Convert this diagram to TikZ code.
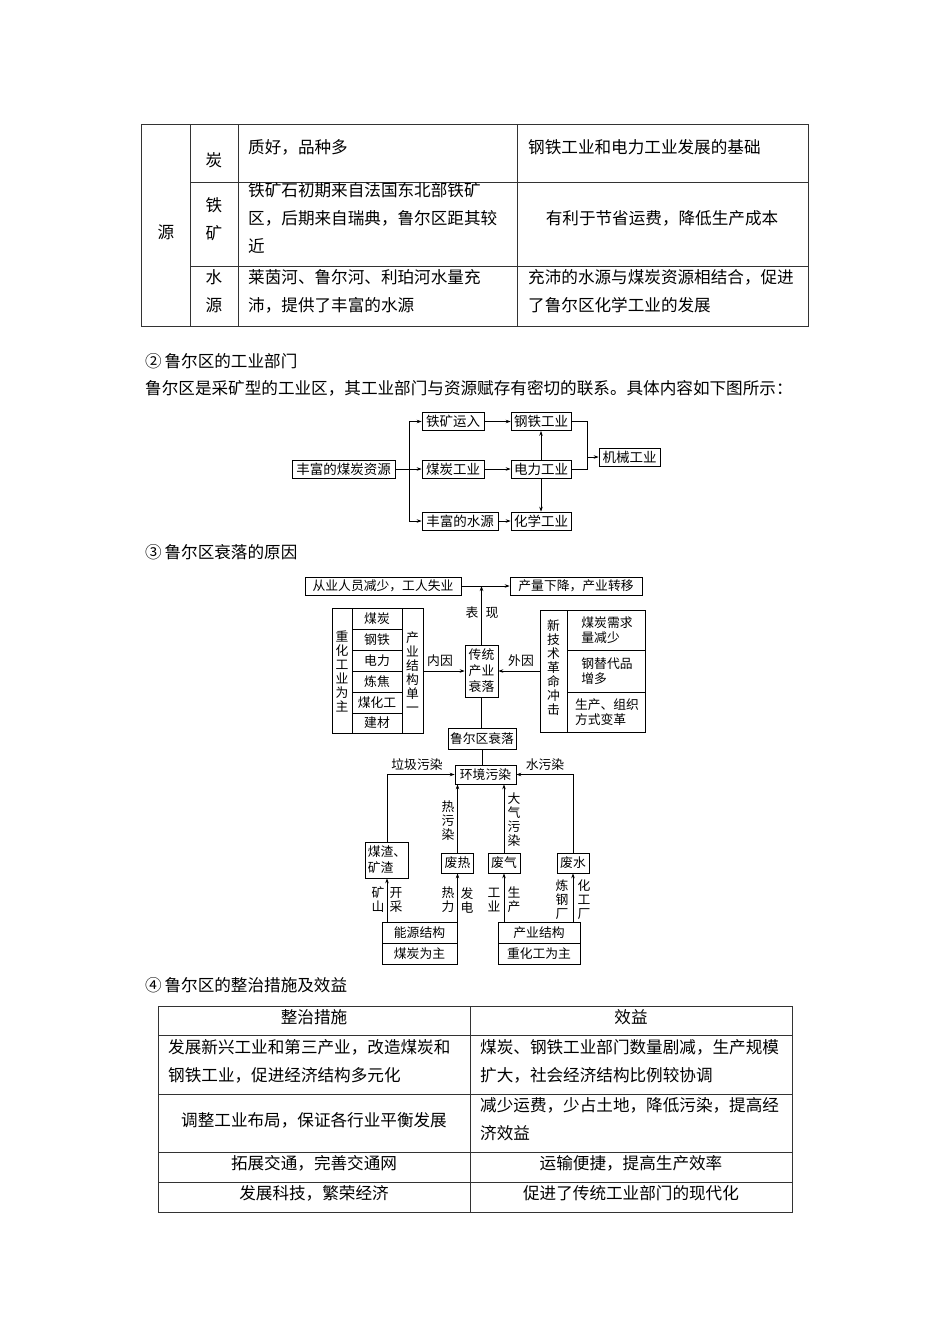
\documentclass[tikz,border=0pt]{standalone}
\usepackage{fontspec}
\setmainfont{Noto Sans CJK SC}
\usetikzlibrary{arrows.meta}
\newcommand{\tfont}{\fontsize{16.6}{28}\selectfont}
\newcommand{\dfontb}{\fontsize{13.5}{16}\selectfont}
\newcommand{\dfontc}{\fontsize{12.8}{14}\selectfont}
\begin{document}
\begin{tikzpicture}[x=1pt,y=-1pt,
  tbl/.style={draw=black!80, line width=0.9pt},
  ttext/.style={font=\tfont, inner sep=0pt, anchor=west, align=left},
  tctr/.style={font=\tfont, inner sep=0pt, align=center},
  boxb/.style={draw, line width=0.7pt, inner xsep=3pt, inner ysep=1.5pt, minimum height=18pt, font=\dfontb},
  boxc/.style={draw, line width=0.7pt, inner xsep=2pt, inner ysep=1.5pt, font=\dfontc, align=center},
  ln/.style={line width=0.7pt},
  arr/.style={line width=0.7pt, -{Stealth[length=5pt,width=3.5pt]}},
  lbl/.style={font=\dfontc, inner sep=0pt, align=center},
  vlbl/.style={font=\fontsize{12.8}{14}\selectfont, inner sep=0pt, align=center}
]
\useasboundingbox[fill=white] (0,0) rectangle (950,1344);

% ---------- top table ----------
\draw[tbl] (141,124) rectangle (808,326);
\draw[tbl] (190,124) -- (190,326);
\draw[tbl] (238,124) -- (238,326);
\draw[tbl] (517,124) -- (517,326);
\draw[tbl] (190,182) -- (808,182);
\draw[tbl] (190,266) -- (808,266);
\node[tctr] (ta) at (166,232) {源};
\node[tctr] (tb) at (214,160) {炭};
\node[tctr] (tc) at (214,219) {铁\\矿};
\node[tctr] (td) at (214,291) {水\\源};
\node[ttext] (te) at (248,147) {质好，品种多};
\node[ttext] (tf) at (248,218) {铁矿石初期来自法国东北部铁矿\\区，后期来自瑞典，鲁尔区距其较\\近};
\node[ttext] (tg) at (248,291) {莱茵河、鲁尔河、利珀河水量充\\沛，提供了丰富的水源};
\node[ttext] (th) at (528,147) {钢铁工业和电力工业发展的基础};
\node[tctr] (ti) at (662,218) {有利于节省运费，降低生产成本};
\node[ttext] (tj) at (528,291) {充沛的水源与煤炭资源相结合，促进\\了鲁尔区化学工业的发展};

% ---------- section 2 ----------
\node[ttext] (s2) at (145,361) {②\,鲁尔区的工业部门};
\node[ttext] (p2) at (145,388) {鲁尔区是采矿型的工业区，其工业部门与资源赋存有密切的联系。具体内容如下图所示：};

\node[boxb, minimum width=103pt] (src) at (343.5,469) {丰富的煤炭资源};
\node[boxb, minimum width=62pt] (tk) at (453,421.5) {铁矿运入};
\node[boxb, minimum width=62pt] (mt) at (453,469) {煤炭工业};
\node[boxb, minimum width=76pt] (sy) at (460,521) {丰富的水源};
\node[boxb, minimum width=60pt] (gt) at (541,421.5) {钢铁工业};
\node[boxb, minimum width=60pt] (dl) at (541,469) {电力工业};
\node[boxb, minimum width=60pt] (hx) at (541,521) {化学工业};
\node[boxb, minimum width=61pt] (jx) at (629.5,457) {机械工业};
\coordinate (br) at (409,469);
\coordinate (mj) at (587,457);
\draw[ln] (src.east) -- (br);
\draw[ln] (br |- tk.west) -- (br |- sy.west);
\draw[arr] (br |- tk.west) -- (tk.west);
\draw[arr] (br) -- (mt.west);
\draw[arr] (br |- sy.west) -- (sy.west);
\draw[arr] (tk.east) -- (gt.west);
\draw[arr] (mt.east) -- (dl.west);
\draw[arr] (sy.east) -- (hx.west);
\draw[arr] (dl.north) -- (gt.south);
\draw[arr] (dl.south) -- (hx.north);
\draw[ln] (gt.east) -- (gt.east -| mj) -- (dl.east -| mj) -- (dl.east);
\draw[arr] (mj) -- (jx.west);

% ---------- section 3 ----------
\node[ttext] (s3) at (145,552) {③\,鲁尔区衰落的原因};

\node[boxc, minimum width=156pt, minimum height=18pt] (cy) at (383,586) {从业人员减少，工人失业};
\node[boxc, minimum width=132pt, minimum height=18pt] (cl) at (576,586) {产量下降，产业转移};
\node[boxc, minimum width=33pt, minimum height=52pt, font=\fontsize{12.8}{16}\selectfont] (ct) at (481.5,671) {传统\\产业\\衰落};
\coordinate (bx) at (481.5,586);
\draw[arr] (cy.east) -- (cl.west);
\draw[arr] (ct.north) -- (bx);
\node[lbl] (bx1) at (472,613) {表};
\node[lbl] (bx2) at (492,613) {现};

% left group
\node[draw, line width=0.7pt, minimum width=91pt, minimum height=125pt, inner sep=0pt] (lg) at (377.5,670.5) {};
\draw[ln] (352,608) -- (352,733);
\draw[ln] (402,608) -- (402,733);
\foreach \yy in {629,650,671,692,713} { \draw[ln] (352,\yy) -- (402,\yy); }
\node[lbl] (l1) at (377,618.5) {煤炭};
\node[lbl] (l2) at (377,639.5) {钢铁};
\node[lbl] (l3) at (377,660.5) {电力};
\node[lbl] (l4) at (377,681.5) {炼焦};
\node[lbl] (l5) at (377,702.5) {煤化工};
\node[lbl] (l6) at (377,723) {建材};
\node[vlbl] (lz) at (342,671) {重\\化\\工\\业\\为\\主};
\node[vlbl] (lc) at (412.5,672) {产\\业\\结\\构\\单\\一};
\draw[arr] (lg.east |- ct.west) -- (ct.west);
\node[lbl] (ny0) at (440,661) {内因};

% right group
\node[draw, line width=0.7pt, minimum width=105pt, minimum height=122pt, inner sep=0pt] (rg) at (592.5,671) {};
\draw[ln] (567,610) -- (567,732);
\draw[ln] (567,650) -- (645,650);
\draw[ln] (567,692) -- (645,692);
\node[vlbl] (rz) at (553.5,668) {新\\技\\术\\革\\命\\冲\\击};
\node[lbl, align=left, font=\fontsize{12.8}{15.5}\selectfont] (r1) at (607,630) {煤炭需求\\量减少};
\node[lbl, align=left, font=\fontsize{12.8}{15.5}\selectfont] (r2) at (607,671) {钢替代品\\增多};
\node[lbl, align=left, font=\fontsize{12.8}{15.5}\selectfont] (r3) at (607,712) {生产、组织\\方式变革};
\draw[arr] (rg.west |- ct.east) -- (ct.east);
\node[lbl] (wy0) at (521,661) {外因};

% decline and pollution
\node[boxc, minimum width=68pt, minimum height=21pt] (ls) at (482,738.5) {鲁尔区衰落};
\node[boxc, minimum width=61pt, minimum height=19pt] (hj) at (485.5,774.5) {环境污染};
\draw[ln] (ct.south) -- (ct.south |- ls.north);
\draw[ln] (ls.south) -- (ls.south |- hj.north);

\node[boxc, minimum width=38pt, minimum height=36pt, align=left, font=\fontsize{12.8}{16}\selectfont] (mz) at (387,860) {煤渣、\\矿渣};
\node[boxc, minimum width=32pt, minimum height=20pt] (fr) at (457.5,863) {废热};
\node[boxc, minimum width=32pt, minimum height=20pt] (fq) at (504,863) {废气};
\node[boxc, minimum width=32pt, minimum height=20pt] (fs) at (573,863) {废水};

\draw[arr] (mz.north) |- (hj.west);
\draw[arr] (fs.north) |- (hj.east);
\draw[arr] (fr.north) -- (fr.north |- hj.south);
\draw[arr] (fq.north) -- (fq.north |- hj.south);
\node[lbl] (g1) at (417,765) {垃圾污染};
\node[lbl] (g2) at (545,765) {水污染};
\node[vlbl] (g3) at (448,821) {热\\污\\染};
\node[vlbl] (g4) at (514,820) {大\\气\\污\\染};

\node[boxc, minimum width=75pt, minimum height=21pt] (ny1) at (419.5,932.5) {能源结构};
\node[boxc, minimum width=75pt, minimum height=21pt] (ny2) at (419.5,953.5) {煤炭为主};
\node[boxc, minimum width=82pt, minimum height=21pt] (cj1) at (539,932.5) {产业结构};
\node[boxc, minimum width=82pt, minimum height=21pt] (cj2) at (539,953.5) {重化工为主};

\draw[arr] (mz.south |- ny1.north) -- (mz.south);
\draw[arr] (fr.south |- ny1.north) -- (fr.south);
\draw[arr] (fq.south |- cj1.north) -- (fq.south);
\draw[arr] (fs.south |- cj1.north) -- (fs.south);
\node[vlbl] (k1) at (378,900) {矿\\山};
\node[vlbl] (k2) at (396,900) {开\\采};
\node[vlbl] (k3) at (448,900) {热\\力};
\node[vlbl] (k4) at (467,900) {发\\电};
\node[vlbl] (k5) at (494,900) {工\\业};
\node[vlbl] (k6) at (514,900) {生\\产};
\node[vlbl] (k7) at (562,900) {炼\\钢\\厂};
\node[vlbl] (k8) at (584,900) {化\\工\\厂};

% ---------- section 4 ----------
\node[ttext] (s4) at (145,985) {④\,鲁尔区的整治措施及效益};
\draw[tbl] (158,1006) rectangle (792,1212);
\draw[tbl] (470,1006) -- (470,1212);
\draw[tbl] (158,1035) -- (792,1035);
\draw[tbl] (158,1094) -- (792,1094);
\draw[tbl] (158,1152) -- (792,1152);
\draw[tbl] (158,1182) -- (792,1182);
\node[tctr] (b1) at (314,1017) {整治措施};
\node[tctr] (b2) at (631,1017) {效益};
\node[ttext] (b3) at (168,1061) {发展新兴工业和第三产业，改造煤炭和\\钢铁工业，促进经济结构多元化};
\node[ttext] (b4) at (480,1061) {煤炭、钢铁工业部门数量剧减，生产规模\\扩大，社会经济结构比例较协调};
\node[tctr] (b5) at (314,1120) {调整工业布局，保证各行业平衡发展};
\node[ttext] (b6) at (480,1119) {减少运费，少占土地，降低污染，提高经\\济效益};
\node[tctr] (b7) at (314,1163) {拓展交通，完善交通网};
\node[tctr] (b8) at (631,1163) {运输便捷，提高生产效率};
\node[tctr] (b9) at (314,1193) {发展科技，繁荣经济};
\node[tctr] (b10) at (631,1193) {促进了传统工业部门的现代化};
\end{tikzpicture}
\end{document}
